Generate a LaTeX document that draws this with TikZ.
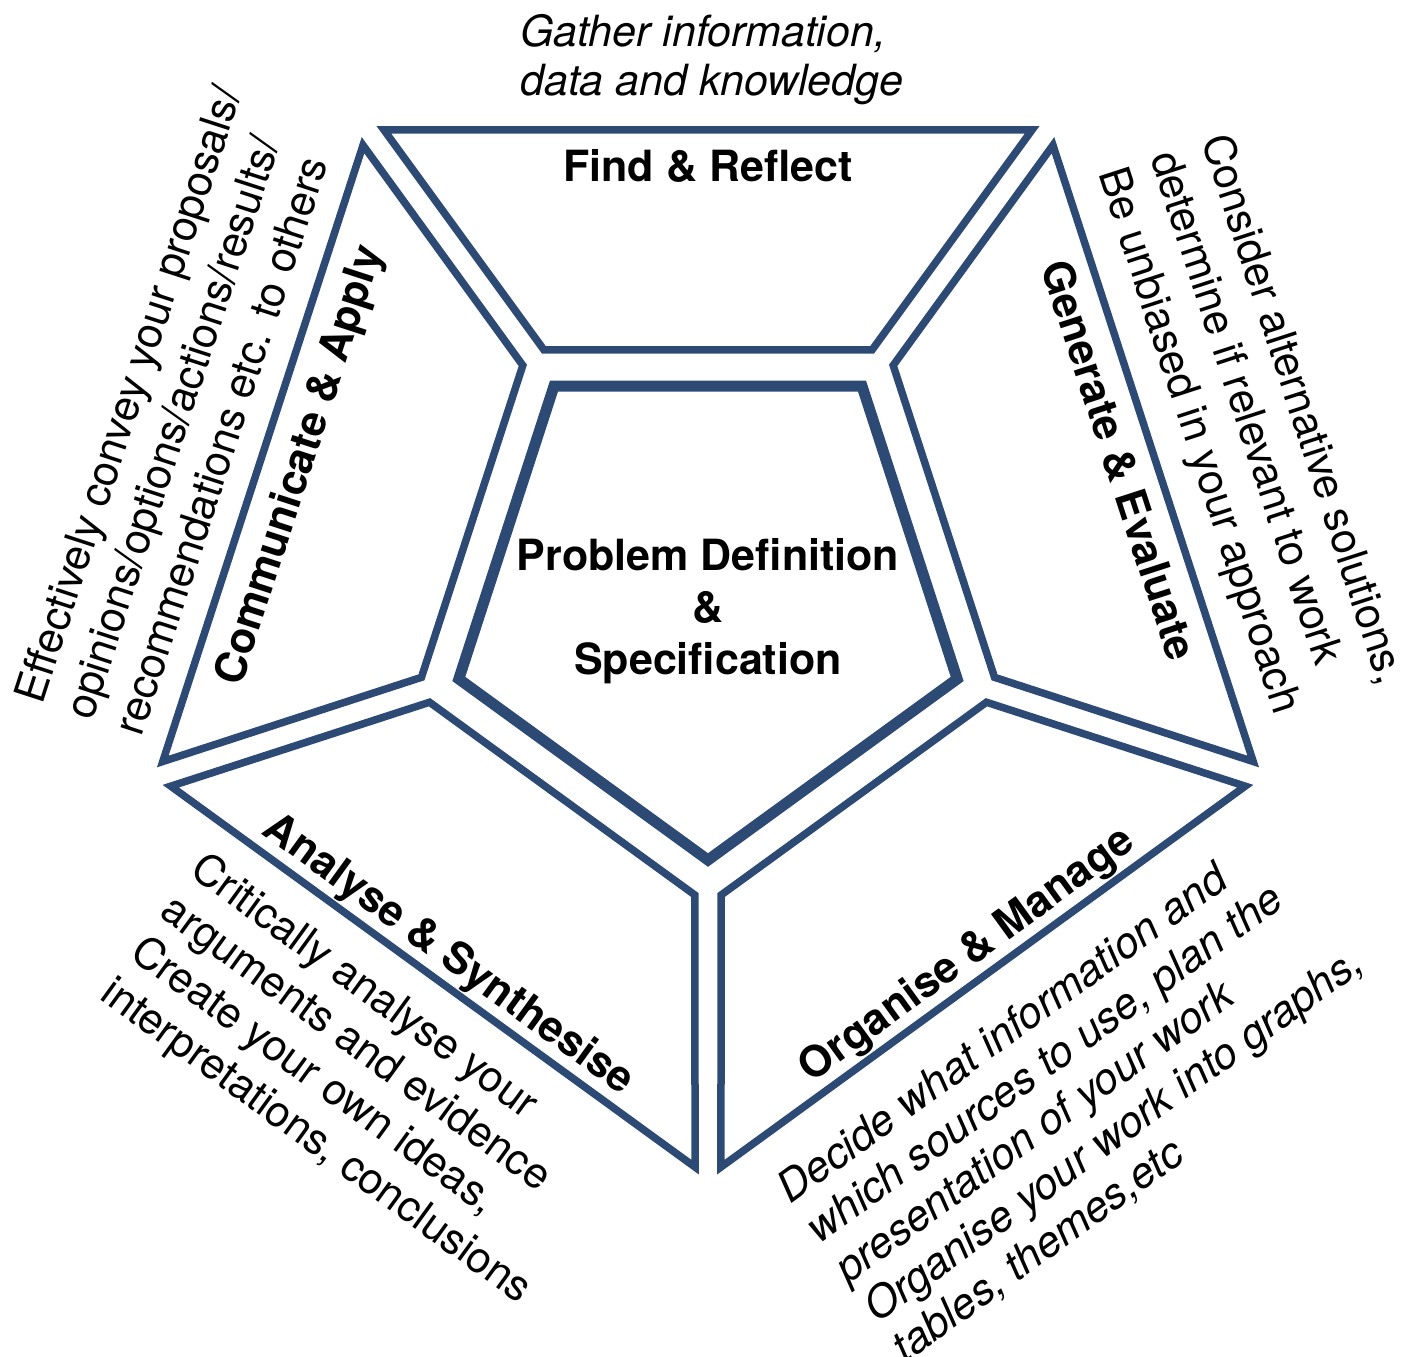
\documentclass[tikz,border=0pt]{standalone}
\usepackage{fontspec}
\setmainfont{TeX Gyre Heros}
\usetikzlibrary{positioning}
\definecolor{pentblue}{RGB}{44,74,116}

\begin{document}
\begin{tikzpicture}[x=1pt,y=1pt,inner sep=0pt]
\tikzstyle{seg}=[draw=pentblue, line width=7.5pt]
\tikzstyle{core}=[draw=pentblue, line width=11pt]
\tikzstyle{title}=[font=\fontsize{43}{50}\selectfont\bfseries, text height=31pt, text depth=0pt]
\tikzstyle{note}=[font=\fontsize{43}{50}\selectfont, align=left, anchor=north west]
\tikzstyle{inote}=[note, font=\fontsize{43}{49}\selectfont\itshape]
\useasboundingbox (-708,-759) rectangle (700,598);
% centre
\draw[core] (54:262) -- (126:262) -- (198:262) -- (270:262) -- (342:262) -- cycle;
\node[font=\fontsize{43}{52}\selectfont\bfseries, align=center] (prob) at (0,-13) {Problem Definition\\ \&\\ Specification};
% find
\begin{scope}[transform shape]
\draw[seg] (-164,248) -- (164,248) -- (324,468) -- (-324,468) -- cycle;
\node[title] (find) at (0,432) {Find \& Reflect};
\node[inote] (gather) at (-188,584) {Gather information,\\ data and knowledge};
\end{scope}
% generate
\begin{scope}[rotate=-72, transform shape]
\draw[seg] (-164,248) -- (164,248) -- (324,468) -- (-324,468) -- cycle;
\node[title] (gen) at (-4,434) {Generate \& Evaluate};
\node[note, font=\fontsize{43}{54}\selectfont] (consider) at (-283,643) {Consider alternative solutions,\\ determine if relevant to work\\ Be unbiased in your approach};
\end{scope}
% organise
\begin{scope}[rotate=36, transform shape]
\draw[seg] (-164,-248) -- (164,-248) -- (324,-468) -- (-324,-468) -- cycle;
\node[title] (org) at (0,-438) {Organise \& Manage};
\node[inote] (decide) at (-290,-508) {Decide what information and\\ which sources to use, plan the\\ presentation of your work\\ Organise your work into graphs,\\ tables, themes,etc};
\end{scope}
% analyse
\begin{scope}[rotate=-36, transform shape]
\draw[seg] (-164,-248) -- (164,-248) -- (324,-468) -- (-324,-468) -- cycle;
\node[title] (ana) at (0,-438) {Analyse \& Synthesise};
\node[note, font=\fontsize{43}{51}\selectfont] (critic) at (-258,-497) {Critically analyse your\\ arguments and evidence\\ Create your own ideas,\\ interpretations, conclusions};
\end{scope}
% communicate
\begin{scope}[rotate=72, transform shape]
\draw[seg] (-164,248) -- (164,248) -- (324,468) -- (-324,468) -- cycle;
\node[title] (comm) at (0,432) {Communicate \& Apply};
\node[note, font=\fontsize{43}{52}\selectfont] (convey) at (-308,631) {Effectively convey your proposals/\\ opinions/options/actions/results/\\ recommendations etc. to others};
\end{scope}
\end{tikzpicture}
\end{document}
